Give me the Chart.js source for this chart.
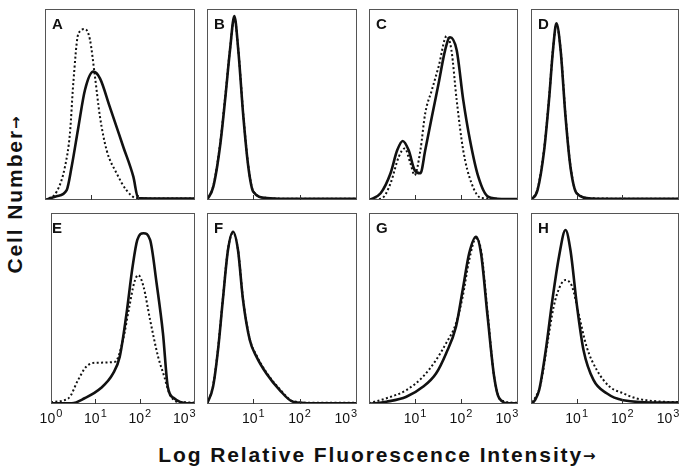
<!DOCTYPE html>
<html>
<head>
<meta charset="utf-8">
<script src="https://cdn.jsdelivr.net/npm/chart.js@4/dist/chart.umd.min.js"></script>
<style>
  html, body { margin:0; padding:0; background:#fff; }
  #wrap { position:relative; width:681px; height:469px; overflow:hidden; background:#fff; }
  canvas { position:absolute; }
  .lbl { position:absolute; font-family:"Liberation Sans", Arial, sans-serif; font-weight:bold; color:#111; white-space:nowrap; }
  .letter { font-size:15px; line-height:15px; }
  .title { font-size:21px; line-height:20px; letter-spacing:1.9px; }
  .arrow { font-family:"DejaVu Sans", sans-serif; font-size:15px; letter-spacing:0; font-weight:bold; position:relative; top:-1px; }
</style>
</head>
<body>
<div id="wrap">
  <div class="lbl title" id="xtitle" style="left:0; width:754px; top:445px; text-align:center;">Log Relative Fluorescence Intensity<span class="arrow">→</span></div>
  <div class="lbl title" id="ytitle" style="left:16px; top:195px; transform:translate(-50%,-50%) rotate(-90deg);">Cell Number<span class="arrow">→</span></div>
</div>
<script>
// ---- data (x = fluorescence intensity, y = relative cell number) ----
const tickValues = [1, 10, 100, 1000];
const tickBase = '10';
const tickExponentsFirst = ['0', '1', '2', '3'];
const tickExponentsOther = ['', '1', '2', '3'];
const panelLetters = ['A', 'B', 'C', 'D', 'E', 'F', 'G', 'H'];

const A_solid_x  = [1, 1.78, 2.94, 3.76, 5.25, 7.3, 11, 15.4, 25, 49, 81, 103, 200, 500, 1740];
const A_solid_y  = [0, 2, 5.2, 17.4, 38, 57.6, 67.2, 63.7, 48.9, 27.9, 12.2, 1, 0.8, 0.8, 0.8];
const A_dotted_x = [1, 1.78, 2.7, 3.46, 4.08, 5.25, 7.3, 9.35, 12, 15.4, 21.5, 35.3, 58, 95, 200, 500, 1740];
const A_dotted_y = [0, 4.3, 17.4, 35, 61, 87, 89.5, 84, 64.6, 43.6, 26, 14, 5, 1, 0.8, 0.8, 0.8];

const B_solid_x  = [1, 1.37, 1.91, 2.45, 3.14, 3.9, 4.74, 6.1, 7.8, 10, 19.5, 50, 200, 1740];
const B_solid_y  = [0, 7, 28, 52, 78.5, 96.3, 78.5, 43.6, 17.4, 4.3, 1, 0.6, 0.6, 0.6];
const B_dotted_x = [1, 1.37, 1.91, 2.45, 3.14, 3.9, 4.74, 6.1, 7.8, 10, 19.5, 50, 200, 1740];
const B_dotted_y = [0, 7.5, 29, 53, 79, 95.5, 79, 44.5, 18, 4.6, 1.1, 0.7, 0.7, 0.7];

const C_solid_x  = [1, 1.79, 2.94, 4.1, 5.4, 7.3, 9.8, 13.1, 16.7, 23.3, 32.6, 45.3, 57.8, 80.6, 112, 157, 238, 390, 760, 1740];
const C_solid_y  = [0, 3.5, 14, 26, 30.9, 26, 15.7, 14, 26, 43.6, 61, 78.5, 85.2, 78.5, 52.4, 31.4, 12.2, 1.7, 0.5, 0.5];
const C_dotted_x = [1.07, 1.94, 2.94, 4.45, 6.0, 7.96, 9.8, 13.1, 16.7, 23.3, 32.6, 49, 62, 80.6, 112, 170, 280, 1740];
const C_dotted_y = [0, 1, 8.7, 22.7, 27, 19.2, 13, 26, 45.4, 57.6, 69.8, 85.9, 78.5, 52.4, 26, 8.7, 1, 0.5];

const D_solid_x  = [1, 1.39, 1.94, 2.48, 3.03, 3.6, 4.45, 5.7, 7.3, 10, 21.4, 100, 1740];
const D_solid_y  = [0, 5.2, 26, 52.4, 78.5, 92.5, 78.5, 43.6, 17.4, 3.5, 0.8, 0.6, 0.6];
const D_dotted_x = [1, 1.39, 1.94, 2.48, 3.03, 3.6, 4.45, 5.7, 7.3, 10, 21.4, 100, 1740];
const D_dotted_y = [0, 5.6, 27, 53, 79, 91.5, 79, 44.5, 18, 3.8, 0.9, 0.7, 0.7];

const E_solid_x  = [1, 2.94, 5.7, 13.1, 25, 35.3, 49, 68.6, 87.6, 121, 170, 238, 331, 425, 590, 1150, 1740];
const E_solid_y  = [0.4, 0.4, 3, 8.2, 16, 24.8, 45.7, 71.9, 85.9, 89.4, 85.9, 63.2, 37, 9, 3, 0.4, 0.4];
const E_dotted_x = [1, 2.48, 4.08, 6.2, 10.2, 27.6, 41.7, 58, 74, 92, 121, 170, 257, 355, 460, 690, 1740];
const E_dotted_y = [1, 3, 12.6, 19.5, 21.6, 22.1, 33.5, 51, 63.2, 67.5, 61.4, 44, 24.8, 14.3, 5.6, 1.2, 0.8];

const F_solid_x  = [1, 1.35, 1.73, 2.2, 2.84, 3.65, 4.67, 6.0, 8.4, 11.7, 19.2, 37.2, 72, 200, 1740];
const F_solid_y  = [0, 9, 28.3, 54.5, 80.6, 90.2, 80.6, 54.5, 33.5, 24.8, 16, 7.3, 1.2, 0.4, 0.4];
const F_dotted_x = [1, 1.35, 1.73, 2.2, 2.84, 3.65, 4.67, 6.0, 8.4, 11.7, 19.2, 37.2, 72, 200, 1740];
const F_dotted_y = [0, 9.5, 29, 55, 81, 89.5, 81, 55, 34, 25.5, 16.5, 7.8, 1.5, 0.6, 0.6];

const G_solid_x  = [1, 2.4, 6.5, 14.9, 28.7, 47.5, 78, 109, 151, 212, 273, 380, 527, 680, 1120, 1740];
const G_solid_y  = [0, 1.2, 3.8, 9, 16, 26.5, 40.5, 59.7, 78.9, 87.6, 78.9, 45.7, 14.3, 3, 0.4, 0.4];
const G_dotted_x = [1, 2.4, 6.5, 14.9, 28.7, 47.5, 78, 109, 151, 212, 273, 380, 527, 740, 1740];
const G_dotted_y = [0.4, 3, 7.3, 14.3, 23, 31.8, 42.2, 56.2, 75.4, 86.7, 80.6, 47.5, 14.3, 2, 0.6];

const H_solid_x  = [1, 1.22, 1.51, 2.11, 2.94, 4.1, 5.7, 7.3, 10.2, 14.1, 23.3, 45.3, 104, 760, 1740];
const H_solid_y  = [0, 2, 7.3, 28.3, 54.5, 77.1, 91.1, 80.6, 51, 28.3, 12.6, 5.6, 2, 0.7, 0.7];
const H_dotted_x = [1, 1.28, 1.64, 2.29, 3.14, 4.45, 5.7, 7.96, 11, 16.5, 27.6, 53, 104, 200, 760, 1740];
const H_dotted_y = [1.2, 3.8, 10.8, 31.8, 51, 62.3, 64.9, 61.4, 47.5, 30, 17.8, 9, 5.6, 3, 1.2, 1];

// ---- layout ----
const colLefts = [45, 207, 369, 531];
const colWidths = [150, 150, 149, 148];
const rowTops = [9, 213];
const boxH = 191;
const PAD = 16;
const X_MAX = 1740;
const FONT = '"Liberation Sans", Arial, sans-serif';

const panels = [
  [A_solid_x, A_solid_y, A_dotted_x, A_dotted_y],
  [B_solid_x, B_solid_y, B_dotted_x, B_dotted_y],
  [C_solid_x, C_solid_y, C_dotted_x, C_dotted_y],
  [D_solid_x, D_solid_y, D_dotted_x, D_dotted_y],
  [E_solid_x, E_solid_y, E_dotted_x, E_dotted_y],
  [F_solid_x, F_solid_y, F_dotted_x, F_dotted_y],
  [G_solid_x, G_solid_y, G_dotted_x, G_dotted_y],
  [H_solid_x, H_solid_y, H_dotted_x, H_dotted_y]
];

const boxPlugin = {
  id: 'box',
  afterDatasetsDraw(chart) {
    const {ctx, chartArea: a} = chart;
    const xs = chart.scales.x;
    ctx.save();
    ctx.strokeStyle = '#555';
    ctx.lineWidth = 1;
    ctx.strokeRect(Math.round(a.left) + 0.5, Math.round(a.top) + 0.5, Math.round(a.right - a.left) - 1, Math.round(a.bottom - a.top) - 1);
    ctx.strokeStyle = '#333';
    [10, 100].forEach(v => {
      const px = Math.round(xs.getPixelForValue(v)) + 0.5;
      ctx.beginPath();
      ctx.moveTo(px, a.bottom);
      ctx.lineTo(px, a.bottom - 5);
      ctx.stroke();
    });
    ctx.restore();
  }
};

// draws the x tick labels of the scale as "10" with a raised exponent
const powerLabelPlugin = {
  id: 'powerLabels',
  afterDraw(chart) {
    const xs = chart.scales.x;
    if (!xs.options.display) return;
    const exps = chart.options.plugins.powerLabels.exponents;
    const ctx = chart.ctx;
    ctx.save();
    ctx.fillStyle = '#111';
    ctx.textBaseline = 'alphabetic';
    xs.ticks.forEach((t, k) => {
      const e = exps[k];
      if (!e) return;
      const px = xs.getPixelForValue(t.value);
      ctx.font = '14px ' + FONT;
      const wb = ctx.measureText(tickBase).width;
      ctx.font = '11px ' + FONT;
      const we = ctx.measureText(e).width;
      const x0 = px - (wb + 1 + we) / 2;
      const yb = chart.chartArea.bottom + 19;
      ctx.font = '14px ' + FONT;
      ctx.fillText(tickBase, x0, yb);
      ctx.font = '11px ' + FONT;
      ctx.fillText(e, x0 + wb + 1, yb - 6);
    });
    ctx.restore();
  }
};

const wrap = document.getElementById('wrap');

panels.forEach((p, i) => {
  const row = i < 4 ? 0 : 1;
  const col = i % 4;
  const bottomRow = row === 1;
  const exps = col === 0 ? tickExponentsFirst : tickExponentsOther;
  const cv = document.createElement('canvas');
  const w = colWidths[col] + 2 * PAD;
  const h = boxH + (bottomRow ? 32 : 0);
  cv.width = w; cv.height = h;
  cv.style.left = (colLefts[col] - PAD) + 'px';
  cv.style.top = rowTops[row] + 'px';
  cv.style.width = w + 'px'; cv.style.height = h + 'px';
  wrap.appendChild(cv);

  const toPts = (xs, ys) => xs.map((x, k) => ({x: x, y: ys[k]}));

  new Chart(cv.getContext('2d'), {
    type: 'line',
    data: {
      datasets: [
        { data: toPts(p[0], p[1]), borderColor: '#111', borderWidth: 2.6, pointRadius: 0,
          cubicInterpolationMode: 'monotone', fill: false },
        { data: toPts(p[2], p[3]), borderColor: '#111', borderWidth: 2, borderDash: [2, 2.4], pointRadius: 0,
          cubicInterpolationMode: 'monotone', fill: false }
      ]
    },
    options: {
      responsive: false,
      animation: false,
      devicePixelRatio: 1,
      layout: { padding: { left: PAD, right: PAD, top: 0, bottom: 0 } },
      plugins: { legend: { display: false }, tooltip: { enabled: false }, powerLabels: { exponents: exps } },
      scales: {
        x: {
          type: 'logarithmic', min: 1, max: X_MAX,
          display: bottomRow,
          afterBuildTicks: s => { s.ticks = tickValues.map(v => ({ value: v })); },
          afterFit: s => { s.height = bottomRow ? 32 : 0; },
          grid: { display: false, drawTicks: false },
          border: { display: false },
          ticks: {
            autoSkip: false, maxRotation: 0, minRotation: 0, padding: 7, color: 'rgba(0,0,0,0)',
            font: { family: FONT, size: 14 },
            callback: (v, k) => exps[k] ? tickBase + '^' + exps[k] : ''
          }
        },
        y: { min: 0, max: 100, display: false }
      }
    },
    plugins: [boxPlugin, powerLabelPlugin]
  });

  const d = document.createElement('div');
  d.className = 'lbl letter';
  d.textContent = panelLetters[i];
  d.style.left = (colLefts[col] + 7) + 'px';
  d.style.top = (rowTops[row] + 7) + 'px';
  wrap.appendChild(d);
});
</script>
</body>
</html>
